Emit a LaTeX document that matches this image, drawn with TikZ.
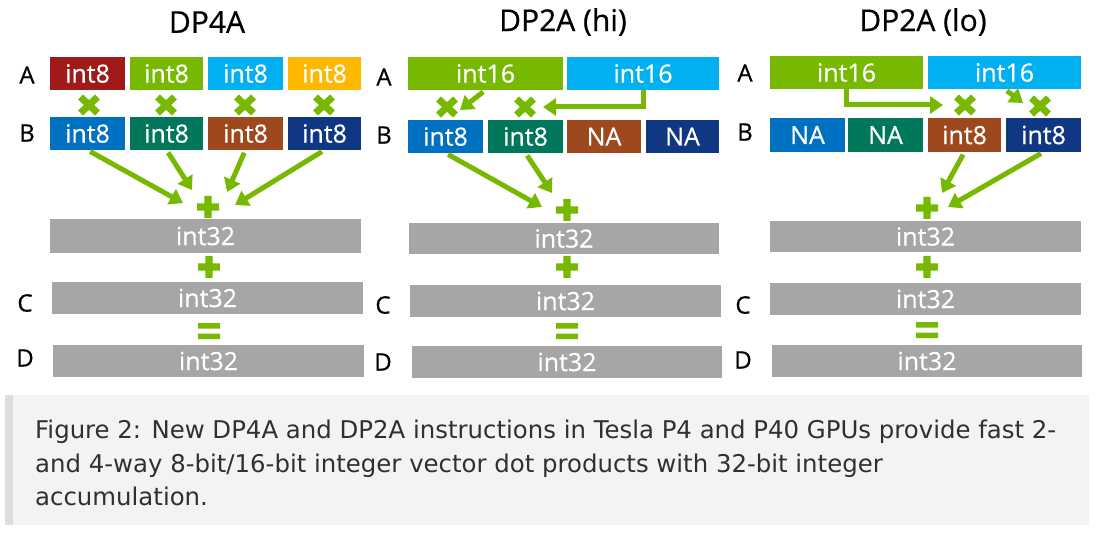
\documentclass[tikz,border=0pt]{standalone}
\usepackage{fontspec}
\usetikzlibrary{arrows.meta}
\newfontfamily\diagfont{Open Sans}[FakeBold=0.6]
\newfontfamily\capfont{DejaVu Sans}
\definecolor{nvgreen}{RGB}{118,185,0}
\definecolor{cred}{RGB}{160,26,26}
\definecolor{ccyan}{RGB}{0,176,240}
\definecolor{cyellow}{RGB}{255,184,0}
\definecolor{cblue}{RGB}{0,112,192}
\definecolor{cteal}{RGB}{0,118,90}
\definecolor{cbrown}{RGB}{158,72,30}
\definecolor{cnavy}{RGB}{16,56,130}
\definecolor{cgray}{RGB}{166,166,166}
\definecolor{capbg}{RGB}{243,243,243}
\definecolor{capbar}{RGB}{221,221,221}
\definecolor{captext}{RGB}{48,48,48}
\newcommand\mycell[7]{%
  \pgfmathsetmacro\cw{#3-#2}\pgfmathsetmacro\ch{#5-#4}%
  \pgfmathsetmacro\cx{(#2+#3)/2}\pgfmathsetmacro\cy{(#4+#5)/2}%
  \node[cellbase,fill=#6,minimum width=\cw pt,minimum height=\ch pt] (#1) at (\cx,\cy) {#7};}
\begin{document}
\begin{tikzpicture}[x=1pt,y=-1pt,
  cellbase/.style={inner sep=0pt,outer sep=0pt,text=white,font=\diagfont\fontsize{25}{28}\selectfont},
  title/.style={inner sep=0pt,font=\diagfont\fontsize{30}{34}\selectfont},
  rowlabel/.style={inner sep=0pt,font=\diagfont\fontsize{24}{27}\selectfont},
  captionline/.style={inner sep=0pt,anchor=base west,text=captext,font=\capfont\fontsize{24.4}{28}\selectfont},
  garrow/.style={draw=nvgreen,line width=5pt,line join=miter,shorten <=3pt,-{Triangle[length=13pt,width=17pt]}},
  crossmark/.style={minimum size=26pt,inner sep=0pt,path picture={
    \draw[nvgreen,line width=7pt] ([shift={(-8.5pt,-8pt)}]path picture bounding box.center) -- ++(17pt,16pt)
      ([shift={(-8.5pt,8pt)}]path picture bounding box.center) -- ++(17pt,-16pt);}},
  plusmark/.style={minimum size=22pt,inner sep=0pt,path picture={
    \fill[nvgreen] ([shift={(-11pt,-3.6pt)}]path picture bounding box.center) rectangle ++(22pt,7.2pt)
      ([shift={(-3.6pt,-11pt)}]path picture bounding box.center) rectangle ++(7.2pt,22pt);}},
  equalmark/.style={minimum width=22pt,minimum height=16pt,inner sep=0pt,path picture={
    \fill[nvgreen] ([shift={(-11pt,2.5pt)}]path picture bounding box.center) rectangle ++(22pt,5.5pt)
      ([shift={(-11pt,-8pt)}]path picture bounding box.center) rectangle ++(22pt,5.5pt);}}
]
\useasboundingbox (0,0) rectangle (1099,534);
\fill[white] (0,0) rectangle (1099,534);

% ---------------- DP4A ----------------
\node[title] (t1) at (207,22) {DP4A};
\node[rowlabel] (la1) at (27,75) {A};
\node[rowlabel] (lb1) at (27,133) {B};
\node[rowlabel] (lc1) at (25,303) {C};
\node[rowlabel] (ld1) at (25,358) {D};
\mycell{a1}{50}{125}{57}{90}{cred}{int8}
\mycell{a2}{130}{203}{57}{90}{nvgreen}{int8}
\mycell{a3}{208}{283}{57}{90}{ccyan}{int8}
\mycell{a4}{288}{361}{57}{90}{cyellow}{int8}
\mycell{b1}{50}{125}{117}{150}{cblue}{int8}
\mycell{b2}{130}{203}{117}{150}{cteal}{int8}
\mycell{b3}{208}{283}{117}{150}{cbrown}{int8}
\mycell{b4}{288}{361}{117}{150}{cnavy}{int8}
\node[crossmark] (x1) at (89,105) {};
\node[crossmark] (x2) at (166,105) {};
\node[crossmark] (x3) at (245,105) {};
\node[crossmark] (x4) at (324,105) {};
\node[plusmark] (p1) at (208,207) {};
\mycell{s1}{50}{361}{219}{253}{cgray}{int32}
\node[plusmark] (q1) at (209,267) {};
\mycell{c1}{52}{363}{282}{314}{cgray}{int32}
\node[equalmark] (e1) at (209,331) {};
\mycell{d1}{53}{364}{345}{377}{cgray}{int32}
\coordinate (k1) at (183,203);
\coordinate (k2) at (192,190);
\coordinate (k3) at (227,192);
\coordinate (k4) at (235,205);
\draw[garrow] (b1.south) -- (k1);
\draw[garrow] (b2.south) -- (k2);
\draw[garrow] (b3.south) -- (k3);
\draw[garrow] (b4.south) -- (k4);

% ---------------- DP2A (hi) ----------------
\node[title] (t2) at (563,22) {DP2A (hi)};
\node[rowlabel] (la2) at (384,77) {A};
\node[rowlabel] (lb2) at (384,135) {B};
\node[rowlabel] (lc2) at (383,305) {C};
\node[rowlabel] (ld2) at (383,362) {D};
\mycell{hA1}{408}{563}{57}{90}{nvgreen}{int16}
\mycell{hA2}{567}{719}{57}{90}{ccyan}{int16}
\mycell{hB1}{408}{483}{120}{153}{cblue}{int8}
\mycell{hB2}{488}{563}{120}{153}{cteal}{int8}
\mycell{hB3}{567}{641}{120}{153}{cbrown}{NA}
\mycell{hB4}{646}{719}{120}{153}{cnavy}{NA}
\node[crossmark] (hx1) at (447,107) {};
\node[crossmark] (hx2) at (525,107) {};
\node[plusmark] (hp1) at (567,210) {};
\mycell{hs1}{409}{719}{223}{254}{cgray}{int32}
\node[plusmark] (hq1) at (567,267) {};
\mycell{hc1}{410}{721}{285}{317}{cgray}{int32}
\node[equalmark] (he1) at (567,331) {};
\mycell{hd1}{412}{722}{346}{378}{cgray}{int32}
\coordinate (hk1) at (542,207);
\coordinate (hk2) at (552,193);
\coordinate (hk3) at (460,110);
\coordinate (hk4) at (543,107);
\draw[garrow] (hB1.south) -- (hk1);
\draw[garrow] (hB2.south) -- (hk2);
\draw[garrow] (hA1.south) -- (hk3);
\draw[garrow,shorten <=0pt] (hA2.south) |- (hk4);

% ---------------- DP2A (lo) ----------------
\node[title] (t3) at (923,22) {DP2A (lo)};
\node[rowlabel] (la3) at (745,73) {A};
\node[rowlabel] (lb3) at (745,132) {B};
\node[rowlabel] (lc3) at (743,305) {C};
\node[rowlabel] (ld3) at (743,360) {D};
\mycell{lA1}{770}{923}{56}{89}{nvgreen}{int16}
\mycell{lA2}{928}{1081}{56}{89}{ccyan}{int16}
\mycell{lB1}{770}{845}{118}{152}{cblue}{NA}
\mycell{lB2}{848}{923}{118}{152}{cteal}{NA}
\mycell{lB3}{928}{1001}{118}{152}{cbrown}{int8}
\mycell{lB4}{1006}{1081}{118}{152}{cnavy}{int8}
\node[crossmark] (lx1) at (965,105) {};
\node[crossmark] (lx2) at (1040,106) {};
\node[plusmark] (lp1) at (927,208) {};
\mycell{ls1}{770}{1081}{221}{252}{cgray}{int32}
\node[plusmark] (lq1) at (927,267) {};
\mycell{lc1}{770}{1081}{283}{315}{cgray}{int32}
\node[equalmark] (le1) at (927,330) {};
\mycell{ld1}{772}{1082}{345}{377}{cgray}{int32}
\coordinate (lk1) at (942,193);
\coordinate (lk2) at (948,207);
\coordinate (lk3) at (943,105);
\coordinate (lk4) at (1023,103);
\draw[garrow] (lB3.south) -- (lk1);
\draw[garrow] (lB4.south) -- (lk2);
\draw[garrow,shorten <=0pt] (lA1.south) |- (lk3);
\draw[garrow] (lA2.south) -- (lk4);

% ---------------- caption ----------------
\fill[capbg] (5,395) rectangle (1089,525);
\fill[capbar] (5,395) rectangle (13,525);
\node[captionline] (cap1) at (35,438) {Figure 2: New DP4A and DP2A instructions in Tesla P4 and P40 GPUs provide fast 2-};
\node[captionline] (cap2) at (35,472) {and 4-way 8-bit/16-bit integer vector dot products with 32-bit integer};
\node[captionline] (cap3) at (35,505) {accumulation.};
\end{tikzpicture}
\end{document}
